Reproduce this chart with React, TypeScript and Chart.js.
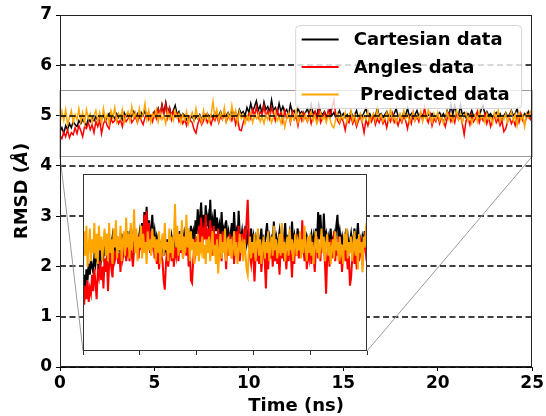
import React, { useEffect, useRef } from 'react';
import { Chart, registerables } from 'chart.js';

Chart.register(...registerables);

// ---- data (RMSD in Å, one sample every TIME_STEP ns, t = 0 … 25) ----
const TIME_STEP = 0.1;

const cartesian = [
  4.68, 4.76, 4.64, 4.80, 4.72, 4.84, 4.76, 4.88, 4.82, 4.78,
  4.90, 4.84, 4.92, 4.86, 4.80, 4.94, 4.88, 4.96, 4.90, 4.98,
  4.90, 5.00, 4.92, 5.02, 4.90, 4.98, 5.04, 4.92, 5.00, 4.94,
  5.04, 4.96, 5.00, 4.92, 5.06, 4.98, 5.02, 4.94, 5.00, 5.08,
  4.98, 5.04, 4.96, 5.06, 5.00, 5.10, 4.98, 5.04, 4.94, 5.02,
  5.08, 5.00, 5.14, 5.02, 5.22, 5.04, 5.26, 5.06, 5.16, 5.00,
  5.10, 5.20, 5.02, 5.08, 4.96, 5.04, 5.00, 4.92, 4.98, 4.94,
  5.00, 4.90, 4.98, 4.94, 5.02, 4.92, 5.00, 4.96, 5.04, 4.98,
  5.02, 4.94, 5.06, 4.98, 5.00, 5.08, 4.96, 5.04, 5.00, 5.06,
  4.98, 5.10, 5.02, 5.06, 4.96, 5.12, 5.04, 5.08, 5.00, 5.16,
  5.06, 5.24, 5.08, 5.18, 5.29, 5.10, 5.20, 5.04, 5.27, 5.12,
  5.18, 5.06, 5.31, 5.10, 5.16, 5.04, 5.24, 5.08, 5.18, 5.06,
  5.12, 5.02, 5.22, 5.06, 5.10, 5.00, 5.16, 5.04, 5.08, 4.98,
  5.06, 5.14, 5.00, 5.22, 5.04, 5.08, 4.98, 5.23, 5.06, 5.02,
  5.08, 4.98, 5.04, 5.12, 5.00, 5.06, 4.96, 5.02, 5.10, 4.98,
  5.04, 4.96, 5.02, 4.94, 5.08, 4.98, 5.00, 5.10, 4.96, 5.02,
  4.98, 5.06, 5.14, 5.00, 5.04, 4.94, 5.02, 4.98, 5.15, 5.00,
  5.04, 4.96, 5.02, 5.08, 4.98, 5.00, 4.94, 5.04, 5.14, 4.98,
  5.02, 4.96, 5.06, 5.00, 5.15, 4.98, 5.04, 4.94, 5.02, 5.10,
  4.98, 5.04, 5.00, 5.08, 4.96, 5.02, 4.98, 5.04, 5.00, 4.96,
  5.02, 5.06, 4.98, 5.04, 4.94, 5.10, 5.00, 5.22, 5.02, 5.20,
  5.04, 4.98, 5.21, 5.02, 5.06, 4.96, 5.04, 5.00, 5.10, 4.98,
  5.02, 5.06, 4.98, 5.12, 5.20, 5.02, 5.08, 5.00, 5.04, 4.96,
  5.02, 5.06, 4.98, 5.04, 4.94, 5.00, 5.06, 4.98, 5.02, 5.10,
  5.00, 5.04, 5.14, 4.98, 5.02, 4.96, 5.04, 5.00, 5.08, 4.98,
  5.02,
];

const angles = [
  4.60, 4.54, 4.68, 4.58, 4.72, 4.56, 4.66, 4.62, 4.76, 4.64,
  4.80, 4.70, 4.58, 4.78, 4.74, 4.86, 4.72, 4.82, 4.66, 4.88,
  4.78, 4.90, 4.64, 4.84, 4.92, 4.80, 4.74, 4.94, 4.86, 4.90,
  4.96, 4.84, 4.92, 4.78, 4.98, 4.88, 4.94, 5.02, 4.86, 4.92,
  4.98, 4.86, 5.02, 4.90, 4.82, 4.96, 5.04, 4.92, 5.00, 4.88,
  5.06, 4.94, 5.12, 4.98, 5.20, 5.00, 5.23, 4.96, 5.14, 4.92,
  5.08, 4.98, 5.04, 4.88, 4.96, 4.84, 4.92, 4.80, 4.98, 4.90,
  4.86, 4.72, 4.65, 4.84, 4.94, 4.82, 4.90, 5.00, 4.86, 4.94,
  4.82, 4.96, 4.90, 5.02, 4.86, 4.98, 4.92, 5.06, 4.88, 4.96,
  5.00, 4.90, 5.04, 4.82, 4.96, 4.72, 4.70, 4.86, 4.98, 4.92,
  5.04, 4.94, 5.12, 5.00, 5.18, 4.96, 5.08, 5.02, 5.20, 4.98,
  5.10, 4.94, 5.16, 5.04, 4.90, 5.12, 4.98, 5.06, 4.88, 5.10,
  4.94, 5.04, 4.86, 5.08, 4.92, 4.98, 4.80, 5.02, 4.90, 5.06,
  4.96, 4.88, 5.04, 4.84, 4.98, 5.08, 4.90, 5.12, 4.86, 4.96,
  5.06, 4.92, 5.10, 4.98, 5.16, 5.31, 5.02, 4.90, 4.84, 4.96,
  4.88, 4.71, 4.92, 4.86, 5.00, 4.84, 4.94, 4.78, 4.90, 4.98,
  4.86, 4.66, 4.92, 4.80, 4.96, 4.88, 5.02, 4.82, 4.94, 4.86,
  4.98, 4.84, 4.92, 4.76, 4.96, 4.88, 5.04, 4.86, 4.92, 4.80,
  4.94, 4.86, 5.00, 4.90, 4.74, 4.96, 4.84, 5.06, 4.90, 4.98,
  4.88, 5.04, 4.92, 5.16, 4.96, 4.86, 5.02, 4.80, 4.94, 4.88,
  5.00, 4.84, 4.96, 4.90, 4.78, 4.94, 5.04, 4.88, 4.98, 4.86,
  5.06, 4.92, 5.00, 4.84, 4.62, 4.90, 4.96, 4.82, 5.02, 4.88,
  4.94, 5.08, 4.86, 4.98, 4.90, 5.04, 4.84, 4.96, 4.78, 4.92,
  5.00, 4.86, 4.94, 4.80, 4.90, 4.68, 4.74, 4.88, 4.96, 4.84,
  4.92, 4.80, 4.98, 4.86, 5.04, 4.90, 4.84, 4.96, 5.02, 4.92,
  4.98,
];

const predicted = [
  4.84, 5.08, 4.90, 5.12, 4.82, 4.96, 5.10, 4.86, 5.02, 4.92,
  5.14, 4.88, 5.06, 4.84, 5.12, 4.94, 5.04, 4.86, 5.00, 5.10,
  4.90, 5.06, 4.86, 5.14, 4.92, 5.02, 4.84, 5.10, 4.96, 5.16,
  4.88, 5.04, 4.94, 5.12, 4.86, 5.00, 5.08, 4.90, 5.18, 4.96,
  5.06, 4.88, 5.14, 4.94, 5.02, 5.24, 4.92, 5.10, 4.86, 5.04,
  4.96, 5.12, 4.88, 5.06, 4.92, 5.00, 4.84, 5.08, 4.94, 5.02,
  4.90, 5.10, 4.96, 5.04, 4.86, 5.02, 4.92, 5.08, 4.84, 4.98,
  5.06, 4.90, 5.14, 4.94, 5.00, 4.86, 5.10, 4.92, 5.04, 4.88,
  5.02, 5.28, 4.96, 5.12, 4.90, 5.06, 4.94, 5.16, 4.88, 5.04,
  4.92, 5.20, 4.96, 5.10, 4.86, 5.08, 4.94, 5.02, 4.84, 5.00,
  4.90, 5.06, 4.86, 5.00, 4.94, 5.04, 4.88, 4.98, 4.84, 5.02,
  4.92, 5.04, 4.86, 4.96, 5.08, 4.90, 4.98, 4.84, 5.02, 4.77,
  4.94, 5.06, 4.88, 5.00, 4.92, 5.10, 4.86, 4.98, 5.04, 4.90,
  5.02, 4.88, 4.96, 5.08, 4.90, 5.00, 4.84, 4.94, 5.06, 4.92,
  4.98, 4.86, 5.02, 4.92, 4.80, 4.76, 4.94, 5.04, 4.88, 5.00,
  4.92, 5.06, 4.86, 4.98, 5.10, 4.90, 5.02, 4.84, 4.96, 5.04,
  4.88, 5.00, 4.92, 5.08, 4.86, 4.98, 5.04, 4.90, 5.12, 4.94,
  5.02, 4.88, 4.96, 5.06, 4.90, 5.14, 4.92, 5.00, 4.86, 4.98,
  5.04, 4.90, 5.10, 4.94, 5.02, 4.86, 4.98, 5.06, 4.90, 5.00,
  4.94, 5.08, 4.88, 5.02, 4.92, 5.12, 4.96, 4.86, 5.04, 4.92,
  5.06, 4.90, 5.00, 4.84, 4.96, 5.08, 4.92, 5.02, 4.88, 4.98,
  5.10, 4.92, 5.04, 4.86, 4.98, 5.06, 4.90, 5.00, 4.84, 4.96,
  5.02, 4.88, 5.08, 4.94, 5.00, 4.86, 5.04, 4.92, 4.98, 4.84,
  5.06, 4.94, 5.10, 4.88, 5.00, 4.92, 5.04, 4.86, 4.98, 5.08,
  4.90, 5.02, 4.80, 5.06, 4.92, 5.00, 4.78, 5.04, 4.96, 5.08,
  5.02,
];

const seriesLabels = ['Cartesian data', 'Angles data', ' Predicted data'];
const seriesColors = ['#000000', '#ff0000', '#ffa500'];

const xRange = [0, 25];
const yRange = [0, 7];
const xTickStep = 5;
const yTickStep = 1;
const dashedLevels = [0, 1, 2, 3, 4, 5, 6];
const zoomX = [0, 25];
const zoomY = [4.2, 5.5];

const xTitle = 'Time (ns)';
const yTitleParts = ['RMSD (', 'Å', ')'];

// ---- layout constants ----
const W = 546;
const H = 416;
const INSET = { left: 83, top: 174, right: 367, bottom: 351 };
const INSET_PAD = 5;
const FONT = '"DejaVu Sans", sans-serif';

const toPoints = (arr: number[]) =>
  arr.map((y, i) => ({ x: Math.round(i * TIME_STEP * 100) / 100, y }));

// series listed first is drawn first (underneath); Chart.js draws lower "order" on top
const makeDatasets = (lw: number) =>
  [cartesian, angles, predicted].map((d, i) => ({
    label: seriesLabels[i],
    data: toPoints(d),
    borderColor: seriesColors[i],
    backgroundColor: seriesColors[i],
    borderWidth: lw,
    pointRadius: 0,
    tension: 0,
    fill: false,
    order: 3 - i,
  }));

const mainDecor = {
  id: 'mainDecor',
  afterDatasetsDraw(chart: any) {
    const { ctx, chartArea: a, scales } = chart;
    const x = scales.x;
    const y = scales.y;
    ctx.save();
    // dashed reference lines
    ctx.strokeStyle = '#000';
    ctx.lineWidth = 1.5;
    ctx.setLineDash([6, 3.5]);
    for (const lv of dashedLevels) {
      const py = Math.round(y.getPixelForValue(lv));
      ctx.beginPath();
      ctx.moveTo(a.left, py);
      ctx.lineTo(a.right, py);
      ctx.stroke();
    }
    ctx.setLineDash([]);
    // zoom region rectangle
    const rx0 = x.getPixelForValue(zoomX[0]);
    const rx1 = x.getPixelForValue(zoomX[1]);
    const ry0 = Math.round(y.getPixelForValue(zoomY[0])) + 0.5;
    const ry1 = Math.round(y.getPixelForValue(zoomY[1])) + 0.5;
    ctx.strokeStyle = '#9a9a9a';
    ctx.lineWidth = 1;
    ctx.strokeRect(rx0, ry1, rx1 - rx0, ry0 - ry1);
    // connectors to inset
    ctx.beginPath();
    ctx.moveTo(rx0, ry0);
    ctx.lineTo(INSET.left, INSET.bottom);
    ctx.moveTo(rx1, ry0);
    ctx.lineTo(INSET.right, INSET.bottom);
    ctx.stroke();
    // spines
    ctx.strokeStyle = '#222';
    ctx.lineWidth = 1;
    ctx.strokeRect(Math.round(a.left) + 0.5, Math.round(a.top) + 0.5,
      Math.round(a.right - a.left) - 1, Math.round(a.bottom - a.top) - 1);

    // legend
    const lx = a.right - 236.5, ly = a.top + 10.5, lw = 226, lh = 83;
    ctx.beginPath();
    ctx.roundRect(lx, ly, lw, lh, 4);
    ctx.fillStyle = 'rgba(255,255,255,0.8)';
    ctx.fill();
    ctx.strokeStyle = 'rgba(204,204,204,0.8)';
    ctx.lineWidth = 1;
    ctx.stroke();
    ctx.font = `bold 18px ${FONT}`;
    ctx.textBaseline = 'middle';
    ctx.textAlign = 'left';
    seriesLabels.forEach((lab, i) => {
      const rowY = ly + 14 + i * 27.5;
      ctx.strokeStyle = seriesColors[i];
      ctx.lineWidth = 2;
      ctx.beginPath();
      ctx.moveTo(lx + 6, rowY);
      ctx.lineTo(lx + 43, rowY);
      ctx.stroke();
      ctx.fillStyle = '#000';
      ctx.fillText(lab, lx + 58, rowY + 1);
    });

    // axis titles
    ctx.fillStyle = '#000';
    ctx.font = `bold 18px ${FONT}`;
    ctx.textAlign = 'center';
    ctx.textBaseline = 'middle';
    ctx.fillText(xTitle, (a.left + a.right) / 2, 406);

    ctx.translate(22, (a.top + a.bottom) / 2);
    ctx.rotate(-Math.PI / 2);
    const fonts = [`bold 18px ${FONT}`, `italic bold 18px ${FONT}`, `bold 18px ${FONT}`];
    const widths = yTitleParts.map((t, i) => { ctx.font = fonts[i]; return ctx.measureText(t).width; });
    const total = widths.reduce((s, v) => s + v, 0);
    let cx = -total / 2;
    ctx.textAlign = 'left';
    yTitleParts.forEach((t, i) => {
      ctx.font = fonts[i];
      ctx.fillText(t, cx, 0);
      cx += widths[i];
    });
    ctx.restore();
  },
};

const insetDecor = {
  id: 'insetDecor',
  beforeDraw(chart: any) {
    const { ctx, chartArea: a } = chart;
    ctx.save();
    ctx.fillStyle = '#fff';
    ctx.fillRect(a.left, a.top, a.right - a.left, a.bottom - a.top);
    ctx.restore();
  },
  afterDatasetsDraw(chart: any) {
    const { ctx, chartArea: a } = chart;
    ctx.save();
    ctx.strokeStyle = '#333';
    ctx.lineWidth = 1;
    ctx.strokeRect(Math.round(a.left) + 0.5, Math.round(a.top) + 0.5,
      Math.round(a.right - a.left) - 1, Math.round(a.bottom - a.top) - 1);
    ctx.restore();
  },
};

export default function App() {
  const mainRef = useRef<HTMLCanvasElement>(null);
  const insetRef = useRef<HTMLCanvasElement>(null);

  useEffect(() => {
    const tickFont = { family: FONT, size: 17, weight: 'bold' as const };
    const main = new Chart(mainRef.current!, {
      type: 'line',
      data: { datasets: makeDatasets(1.5) as any },
      options: {
        responsive: false,
        animation: false,
        maintainAspectRatio: false,
        layout: { padding: { left: 0, top: 15, right: 13, bottom: 0 } },
        plugins: { legend: { display: false }, tooltip: { enabled: false } },
        scales: {
          x: {
            type: 'linear',
            min: xRange[0],
            max: xRange[1],
            afterFit: (s: any) => { s.height = 49; },
            ticks: { stepSize: xTickStep, font: tickFont, color: '#000', padding: 2, maxRotation: 0 },
            grid: { drawOnChartArea: false, drawTicks: true, tickLength: 4, color: '#000' },
            border: { color: '#222', width: 1 },
          },
          y: {
            type: 'linear',
            min: yRange[0],
            max: yRange[1],
            afterFit: (s: any) => { s.width = 60; },
            ticks: { stepSize: yTickStep, font: tickFont, color: '#000', padding: 4 },
            grid: { drawOnChartArea: false, drawTicks: true, tickLength: 4, color: '#000' },
            border: { color: '#222', width: 1 },
          },
        },
      },
      plugins: [mainDecor],
    });

    const inset = new Chart(insetRef.current!, {
      type: 'line',
      data: { datasets: makeDatasets(2) as any },
      options: {
        responsive: false,
        animation: false,
        maintainAspectRatio: false,
        layout: { padding: { left: INSET_PAD, top: INSET_PAD, right: INSET_PAD, bottom: 0 } },
        plugins: { legend: { display: false }, tooltip: { enabled: false } },
        scales: {
          x: {
            type: 'linear',
            min: zoomX[0],
            max: zoomX[1],
            afterFit: (s: any) => { s.height = 10; },
            ticks: { stepSize: xTickStep, display: false },
            grid: { drawOnChartArea: false, drawTicks: true, tickLength: 4, color: '#333' },
            border: { display: false },
          },
          y: {
            type: 'linear',
            display: false,
            min: zoomY[0],
            max: zoomY[1],
          },
        },
      },
      plugins: [insetDecor],
    });

    return () => {
      main.destroy();
      inset.destroy();
    };
  }, []);

  const insetW = INSET.right - INSET.left + 2 * INSET_PAD;
  const insetH = INSET.bottom - INSET.top + INSET_PAD + 10;

  return (
    <div style={{ position: 'fixed', left: 0, top: 0, width: W, height: H, background: '#fff' }}>
      <canvas ref={mainRef} width={W} height={H} style={{ position: 'absolute', left: 0, top: 0 }} />
      <canvas
        ref={insetRef}
        width={insetW}
        height={insetH}
        style={{ position: 'absolute', left: INSET.left - INSET_PAD, top: INSET.top - INSET_PAD }}
      />
    </div>
  );
}
